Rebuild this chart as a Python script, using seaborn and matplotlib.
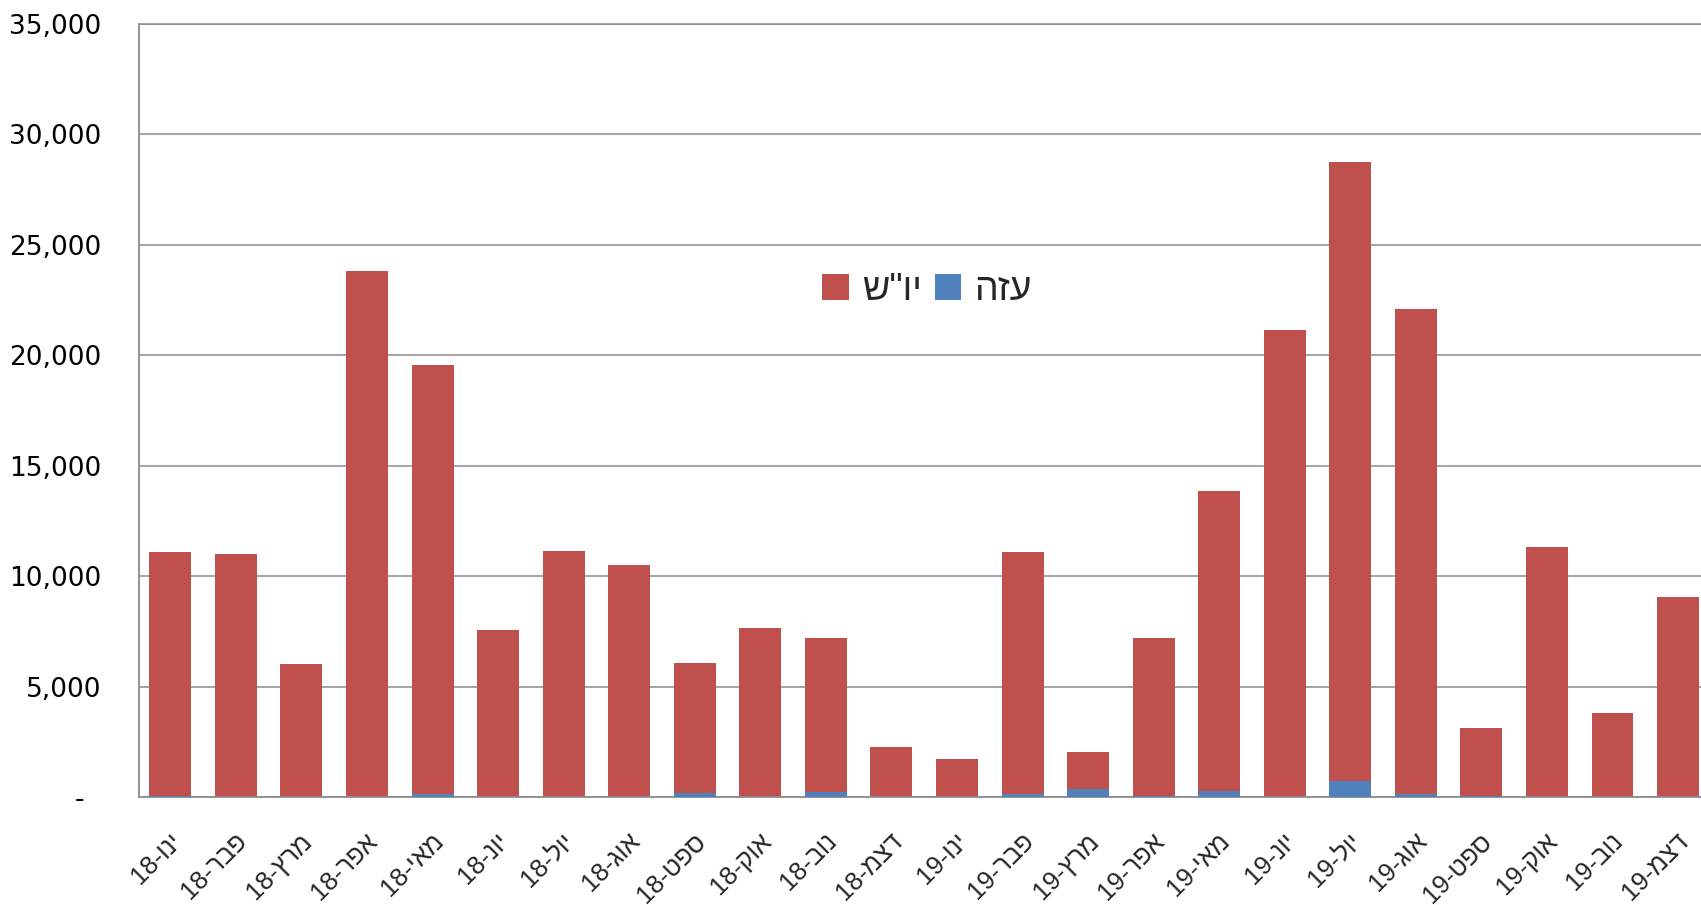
import matplotlib
matplotlib.use("Agg")
import matplotlib.pyplot as plt
import matplotlib.transforms as mtransforms
from matplotlib.patches import Patch
from matplotlib.ticker import FuncFormatter, MultipleLocator
import seaborn as sns
import pandas as pd
import numpy as np

# ---- data ----
months_he = ["ינו", "פבר", "מרץ", "אפר", "מאי", "יונ", "יול", "אוג", "ספט", "אוק", "נוב", "דצמ"]
years = ["18", "19"]
# logical-order labels, e.g. "ינו-18"
categories = [f"{m}-{y}" for y in years for m in months_he]

gaza = [50, 20, 10, 10, 150, 10, 10, 10, 200, 10, 250, 20,
        20, 150, 400, 60, 300, 10, 750, 150, 80, 10, 40, 10]
west_bank = [11050, 10980, 6030, 23790, 19400, 7550, 11130, 10490, 5890, 7650, 6980, 2240,
             1700, 10950, 1660, 7160, 13550, 21150, 28010, 21940, 3060, 11330, 3790, 9070]

label_ws = 'יו"ש'   # red series
label_gaza = "עזה"  # blue series

RED = "#C0504D"
BLUE = "#4F81BD"
GRID = "#8C8C8C"

def visual(s):
    """matplotlib has no bidi: reorder an RTL label like 'ינו-18' into visual order '18-וני'."""
    if "-" in s:
        word, num = s.split("-")
        return f"{num}-{word[::-1]}"
    return s[::-1]

total = [g + w for g, w in zip(gaza, west_bank)]
df = pd.DataFrame({"cat": categories, "total": total, "gaza": gaza})

sns.set_theme(style="white")
plt.rcParams["font.family"] = ["DejaVu Sans"]

fig = plt.figure(figsize=(17.01, 9.05), dpi=100)
ax = fig.add_axes([138.9 / 1701, 1 - 797.4 / 905, 1 - 138.9 / 1701, (797.4 - 23.9) / 905])

# stacked: full height in red, gaza portion in blue at the bottom
sns.barplot(data=df, x="cat", y="total", color=RED, saturation=1, width=0.64, ax=ax,
            zorder=2, linewidth=0)
sns.barplot(data=df, x="cat", y="gaza", color=BLUE, saturation=1, width=0.64, ax=ax,
            zorder=3, linewidth=0)

ax.set_xlim(-0.48, 23.35)
ax.set_ylim(0, 35000)
ax.yaxis.set_major_locator(MultipleLocator(5000))
ax.yaxis.set_major_formatter(FuncFormatter(lambda v, p: "-  " if v == 0 else f"{int(v):,}"))
ax.grid(axis="y", color=GRID, linewidth=1.1, zorder=0)
ax.set_axisbelow(True)
ax.set_xlabel("")
ax.set_ylabel("")

ax.spines["right"].set_visible(False)
for side in ["left", "bottom", "top"]:
    ax.spines[side].set_color(GRID)
    ax.spines[side].set_linewidth(1.3)
ax.spines["top"].set_linewidth(1.1)

ax.tick_params(axis="y", length=0, pad=27, labelsize=19, labelcolor="black")
ax.tick_params(axis="x", length=0, pad=0)

ax.set_xticks(range(len(categories)))
ax.set_xticklabels([visual(c) for c in categories], rotation=45, ha="right", va="center",
                   rotation_mode="anchor", fontsize=18.5,
                   family=["Liberation Sans", "DejaVu Sans"])
offset = mtransforms.ScaledTranslation(0.07, -0.40, fig.dpi_scale_trans)
for lbl in ax.get_xticklabels():
    lbl.set_transform(lbl.get_transform() + offset)

handles = [Patch(facecolor=RED, edgecolor="none", label=visual(label_ws)),
           Patch(facecolor=BLUE, edgecolor="none", label=visual(label_gaza))]
fig.legend(handles=handles, loc="center", bbox_to_anchor=(927 / 1701, 1 - 290 / 905),
           ncol=2, frameon=False, handlelength=0.7, handleheight=0.7,
           handletextpad=0.35, columnspacing=0.35,
           prop={"family": ["Liberation Sans", "DejaVu Sans"], "size": 27})

fig.savefig("out.png", dpi=100)
